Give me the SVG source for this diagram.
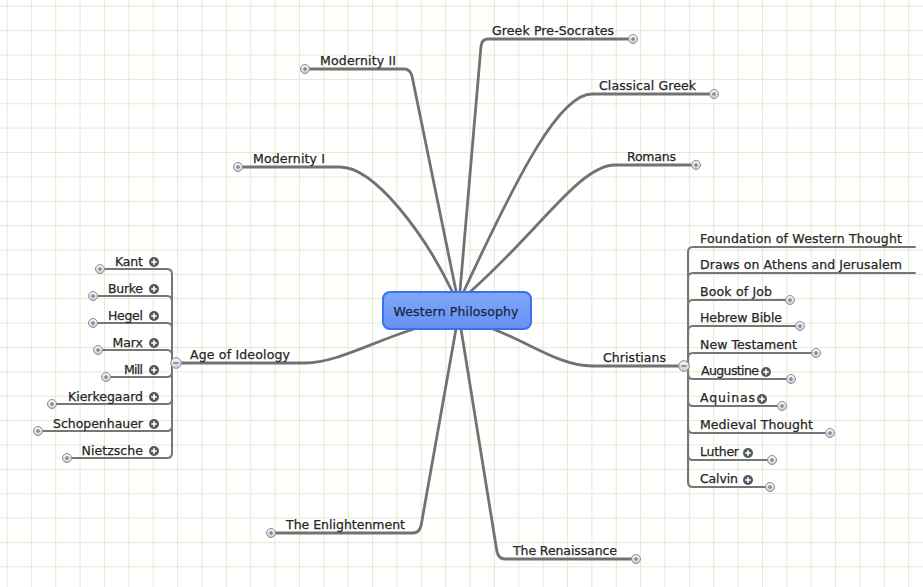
<svg xmlns="http://www.w3.org/2000/svg" xmlns:xlink="http://www.w3.org/1999/xlink" width="923" height="587" viewBox="0 0 923 587">
<defs>
<pattern id="grid" patternUnits="userSpaceOnUse" x="6.5" y="5.8" width="24.37" height="24.37">
<path d="M0,0 H24.37 M0,0 V24.37" fill="none" stroke="#e2ead1" stroke-width="2"/>
</pattern>
<linearGradient id="hg" x1="0" y1="0" x2="0" y2="1">
<stop offset="0" stop-color="#f6f7fa"/>
<stop offset="1" stop-color="#c9ccd4"/>
</linearGradient>
<linearGradient id="cg" x1="0" y1="0" x2="0" y2="1">
<stop offset="0" stop-color="#7ea8fa"/>
<stop offset="1" stop-color="#6592f3"/>
</linearGradient>
<g id="hp">
<circle r="4.5" fill="url(#hg)" stroke="#8b8e96" stroke-width="1"/>
<path d="M-2,0 H2 M0,-2 V2" stroke="#6a6d75" stroke-width="1"/>
</g>
<g id="fp">
<circle r="5" fill="#55575b"/>
<path d="M-2.8,0 H2.8 M0,-2.8 V2.8" stroke="#fff" stroke-width="1.7"/>
</g>
<g id="mn">
<circle r="5.3" fill="url(#hg)" stroke="#8b8e96" stroke-width="1"/>
<path d="M-2.5,0 H2.5" stroke="#5a5d65" stroke-width="1.2"/>
</g>
</defs>
<style>
text { font-family: "DejaVu Sans", "Liberation Sans", sans-serif; font-size: 12.5px; fill: #262626; stroke: #262626; stroke-width: 0.25px; }
.main { fill: none; stroke: #727272; stroke-width: 2.8; stroke-linecap: round; stroke-linejoin: round; }
.sub { fill: none; stroke: #767676; stroke-width: 2; stroke-linecap: round; stroke-linejoin: round; }
.end { text-anchor: end; }
.center { fill: #1c2540; stroke: #1c2540; text-anchor: middle; }
</style>
<rect width="923" height="587" fill="#ffffff"/>
<rect width="923" height="587" fill="url(#grid)"/>

<g id="connectors">
<path class="main" d="M456,291 L412,76 Q410,69 404,69 L310,69"/>
<path class="main" d="M452,291 C425,235 375,167 340,167 L243,167"/>
<path class="main" d="M460,291 L481,46 Q482,39 488,39 L628,39"/>
<path class="main" d="M464,291 C520,170 560,94 592,94 L709,94"/>
<path class="main" d="M470,292 C540,230 580,165 615,165 L691,165"/>
<path class="main" d="M414,329 C370,343 335,363 305,363 L181,363"/>
<path class="main" d="M493,329 C530,343 560,366 592,366 L679,366"/>
<path class="main" d="M456,329 L421,526 Q419,533 413,533 L276,533"/>
<path class="main" d="M461,329 L497,552 Q499,559 505,559 L631,559"/>

<path class="sub" d="M172,363 V274 Q172,269 167,269 H105"/>
<path class="sub" d="M172,363 V301 Q172,296 167,296 H98"/>
<path class="sub" d="M172,363 V328 Q172,323 167,323 H98"/>
<path class="sub" d="M172,363 V355 Q172,350 167,350 H103"/>
<path class="sub" d="M172,363 V372 Q172,377 167,377 H111"/>
<path class="sub" d="M172,363 V399 Q172,404 167,404 H57"/>
<path class="sub" d="M172,363 V426 Q172,431 167,431 H43"/>
<path class="sub" d="M172,363 V453 Q172,458 167,458 H72"/>

<path class="sub" d="M688,366 V252 Q688,247 693,247 H915"/>
<path class="sub" d="M688,366 V278 Q688,273 693,273 H915"/>
<path class="sub" d="M688,366 V305 Q688,300 693,300 H785"/>
<path class="sub" d="M688,366 V331 Q688,326 693,326 H795"/>
<path class="sub" d="M688,366 V358 Q688,353 693,353 H811"/>
<path class="sub" d="M688,366 V374 Q688,379 693,379 H786"/>
<path class="sub" d="M688,366 V401 Q688,406 693,406 H777"/>
<path class="sub" d="M688,366 V428 Q688,433 693,433 H825"/>
<path class="sub" d="M688,366 V455 Q688,460 693,460 H767"/>
<path class="sub" d="M688,366 V482 Q688,487 693,487 H765"/>
</g>

<g id="western-philosophy">
<rect x="383" y="292" width="148" height="37" rx="7" fill="url(#cg)" stroke="#3d6fee" stroke-width="2"/>
<text class="center" x="456" y="316" textLength="125" lengthAdjust="spacing">Western Philosophy</text>
</g>

<g id="modernity-ii"><text x="320" y="65" textLength="76" lengthAdjust="spacing">Modernity II</text><use xlink:href="#hp" x="305" y="69"/></g>
<g id="modernity-i"><text x="253" y="163" textLength="72" lengthAdjust="spacing">Modernity I</text><use xlink:href="#hp" x="238" y="167"/></g>
<g id="greek-pre-socrates"><text x="492" y="35" textLength="122" lengthAdjust="spacing">Greek Pre-Socrates</text><use xlink:href="#hp" x="633" y="39"/></g>
<g id="classical-greek"><text x="599" y="90" textLength="97" lengthAdjust="spacing">Classical Greek</text><use xlink:href="#hp" x="714" y="94"/></g>
<g id="romans"><text x="627" y="161" textLength="49" lengthAdjust="spacing">Romans</text><use xlink:href="#hp" x="696" y="165"/></g>
<g id="the-enlightenment"><text x="286" y="529" textLength="119" lengthAdjust="spacing">The Enlightenment</text><use xlink:href="#hp" x="271" y="533"/></g>
<g id="the-renaissance"><text x="513" y="555" textLength="104" lengthAdjust="spacing">The Renaissance</text><use xlink:href="#hp" x="636" y="559"/></g>

<g id="age-of-ideology"><text x="190" y="359" textLength="100" lengthAdjust="spacing">Age of Ideology</text><use xlink:href="#mn" x="176" y="363"/></g>
<g id="kant"><text x="115" y="266" textLength="28" lengthAdjust="spacing">Kant</text><use xlink:href="#fp" x="154" y="262"/><use xlink:href="#hp" x="100" y="269"/></g>
<g id="burke"><text x="108" y="293" textLength="35" lengthAdjust="spacing">Burke</text><use xlink:href="#fp" x="154" y="289"/><use xlink:href="#hp" x="93" y="296"/></g>
<g id="hegel"><text x="108" y="320" textLength="35" lengthAdjust="spacing">Hegel</text><use xlink:href="#fp" x="154" y="316"/><use xlink:href="#hp" x="93" y="323"/></g>
<g id="marx"><text x="112.5" y="347" textLength="30.5" lengthAdjust="spacing">Marx</text><use xlink:href="#fp" x="154" y="343"/><use xlink:href="#hp" x="98" y="350"/></g>
<g id="mill"><text x="124" y="374" textLength="19" lengthAdjust="spacing">Mill</text><use xlink:href="#fp" x="154" y="370"/><use xlink:href="#hp" x="106" y="377"/></g>
<g id="kierkegaard"><text x="68" y="401" textLength="75" lengthAdjust="spacing">Kierkegaard</text><use xlink:href="#fp" x="154" y="397"/><use xlink:href="#hp" x="52" y="404"/></g>
<g id="schopenhauer"><text x="53" y="428" textLength="90" lengthAdjust="spacing">Schopenhauer</text><use xlink:href="#fp" x="154" y="424"/><use xlink:href="#hp" x="38" y="431"/></g>
<g id="nietzsche"><text x="81.5" y="455" textLength="61.5" lengthAdjust="spacing">Nietzsche</text><use xlink:href="#fp" x="154" y="451"/><use xlink:href="#hp" x="67" y="458"/></g>

<g id="christians"><text x="603" y="362" textLength="63" lengthAdjust="spacing">Christians</text><use xlink:href="#mn" x="684" y="366"/></g>
<g id="foundation"><text x="700" y="243" textLength="202" lengthAdjust="spacing">Foundation of Western Thought</text></g>
<g id="draws-on"><text x="700" y="269" textLength="202" lengthAdjust="spacing">Draws on Athens and Jerusalem</text></g>
<g id="book-of-job"><text x="700" y="296" textLength="72" lengthAdjust="spacing">Book of Job</text><use xlink:href="#hp" x="790" y="300"/></g>
<g id="hebrew-bible"><text x="700" y="322" textLength="82" lengthAdjust="spacing">Hebrew Bible</text><use xlink:href="#hp" x="800" y="326"/></g>
<g id="new-testament"><text x="700" y="349" textLength="97" lengthAdjust="spacing">New Testament</text><use xlink:href="#hp" x="816" y="353"/></g>
<g id="augustine"><text x="701" y="375" textLength="58" lengthAdjust="spacing">Augustine</text><use xlink:href="#fp" x="766" y="372"/><use xlink:href="#hp" x="791" y="379"/></g>
<g id="aquinas"><text x="700" y="402" textLength="55" lengthAdjust="spacing">Aquinas</text><use xlink:href="#fp" x="762" y="399"/><use xlink:href="#hp" x="782" y="406"/></g>
<g id="medieval-thought"><text x="700" y="429" textLength="113" lengthAdjust="spacing">Medieval Thought</text><use xlink:href="#hp" x="830" y="433"/></g>
<g id="luther"><text x="700" y="456" textLength="39" lengthAdjust="spacing">Luther</text><use xlink:href="#fp" x="748" y="453"/><use xlink:href="#hp" x="772" y="460"/></g>
<g id="calvin"><text x="700" y="483" textLength="38" lengthAdjust="spacing">Calvin</text><use xlink:href="#fp" x="748" y="480"/><use xlink:href="#hp" x="770" y="487"/></g>
</svg>
